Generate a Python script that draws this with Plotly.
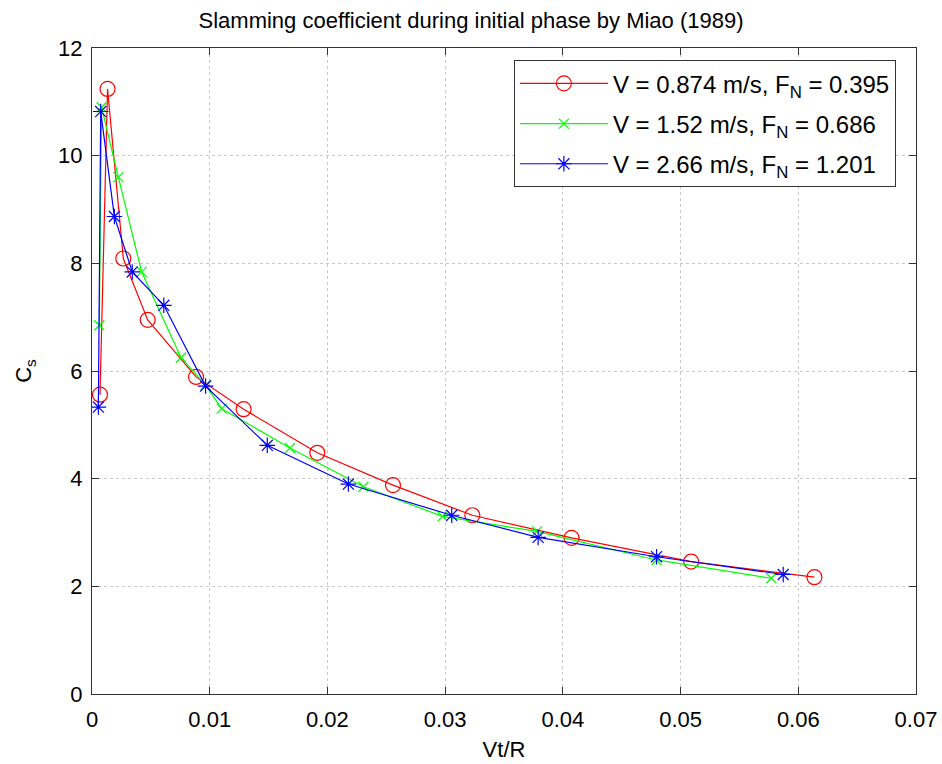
import plotly.graph_objects as go

# Data
red_x = [0.00068, 0.00132, 0.00266, 0.00473, 0.00884, 0.01288, 0.01914, 0.02557, 0.03231, 0.04074, 0.0509, 0.06137]
red_y = [5.56, 11.24, 8.09, 6.95, 5.89, 5.29, 4.48, 3.88, 3.32, 2.90, 2.46, 2.17]

green_x = [0.00062, 0.00081, 0.00224, 0.00422, 0.00756, 0.00965, 0.01102, 0.01682, 0.02306, 0.02977, 0.0378, 0.04796, 0.05771]
green_y = [6.85, 10.9, 9.6, 7.84, 6.25, 5.74, 5.30, 4.57, 3.85, 3.30, 3.02, 2.49, 2.15]

blue_x = [0.00054, 0.00074, 0.0019, 0.00342, 0.0061, 0.00965, 0.01489, 0.02178, 0.03056, 0.0379, 0.04796, 0.05872]
blue_y = [5.33, 10.82, 8.87, 7.84, 7.22, 5.72, 4.62, 3.90, 3.32, 2.91, 2.55, 2.22]

names = ["V = 0.874 m/s, F<sub>N</sub> = 0.395",
         "V = 1.52 m/s, F<sub>N</sub> = 0.686",
         "V = 2.66 m/s, F<sub>N</sub> = 1.201"]

x_ticks = [0, 0.01, 0.02, 0.03, 0.04, 0.05, 0.06, 0.07]
x_tick_labels = ["0", "0.01", "0.02", "0.03", "0.04", "0.05", "0.06", "0.07"]
y_ticks = [0, 2, 4, 6, 8, 10, 12]

FONT = "Liberation Sans, Arial, sans-serif"

fig = go.Figure()
fig.add_trace(go.Scatter(x=red_x, y=red_y, mode="lines+markers", name=names[0], legendgroup="a",
                         line=dict(color="#ff0000", width=1.2),
                         marker=dict(symbol="circle-open", size=15, color="#ff0000", line=dict(width=1.2))))
fig.add_trace(go.Scatter(x=green_x, y=green_y, mode="lines+markers", name=names[1], legendgroup="b",
                         line=dict(color="#00ff00", width=1.2),
                         marker=dict(symbol="x-thin-open", size=10, color="#00ff00", line=dict(width=1.2, color="#00ff00"))))
fig.add_trace(go.Scatter(x=blue_x, y=blue_y, mode="lines+markers", name=names[2], legendgroup="c",
                         line=dict(color="#0000ff", width=1.2),
                         marker=dict(symbol="asterisk-open", size=13, color="#0000ff", line=dict(width=1.2, color="#0000ff"))))

axis_common = dict(showline=True, linecolor="#333333", linewidth=1, mirror="allticks",
                   ticks="inside", ticklen=7, tickcolor="#333333", automargin=False,
                   showgrid=True, gridcolor="#c8c8c8", griddash="dot", gridwidth=1,
                   zeroline=False, tickfont=dict(family=FONT, size=22, color="black"))

fig.update_layout(
    width=942, height=764,
    paper_bgcolor="white", plot_bgcolor="white",
    margin=dict(l=92, r=26, t=48, b=70, autoexpand=False),
    title=dict(text="Slamming coefficient during initial phase by Miao (1989)",
               x=0.46, xanchor="center", xref="paper", y=0.974, yanchor="middle",
               font=dict(family=FONT, size=22, color="black")),
    xaxis=dict(range=[0, 0.07], tickvals=x_ticks, ticktext=x_tick_labels,
               ticklabelstandoff=6,
               title=dict(text="Vt/R", font=dict(family=FONT, size=22, color="black"), standoff=10),
               **axis_common),
    yaxis=dict(range=[0, 12], tickvals=y_ticks, ticklabelstandoff=4,
               title=dict(text="C<sub>s</sub>", font=dict(family=FONT, size=22, color="black"), standoff=20),
               **axis_common),
    legend=dict(x=0.512, xanchor="left", y=0.981, yanchor="top",
                bgcolor="white", bordercolor="#333333", borderwidth=1,
                font=dict(family=FONT, size=24, color="black"),
                itemwidth=88, tracegroupgap=6),
    showlegend=True,
)

fig.write_html("out.html")
